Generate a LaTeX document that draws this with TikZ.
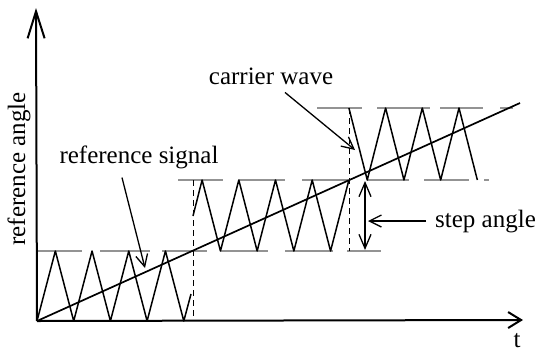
\documentclass[tikz,border=0pt]{standalone}
\usepackage{fontspec}
\setmainfont{Liberation Serif}
\usetikzlibrary{arrows.meta}

\begin{document}
\begin{tikzpicture}[
x=1pt, y=-1pt,
wave/.style={line width=1.5pt, line join=round},
level/.style={gray!85, line width=1.2pt},
guide/.style={line width=0.9pt, dash pattern=on 6pt off 4pt},
axis/.style={line width=2pt},
arrow/.style={line width=1.3pt, -{Straight Barb[length=12pt,width=12pt]}},
lbl/.style={font=\fontsize{25}{30}\selectfont, inner sep=1pt}
]
\useasboundingbox (0,0) rectangle (537,351);
% axes
\coordinate (O) at (37,321);
\coordinate (ytop) at (36,8);
\coordinate (xend) at (523,320);
\draw[axis, -{Straight Barb[length=27pt,width=17pt]}] (O) -- (ytop);
\draw[axis, -{Straight Barb[length=13pt,width=16pt]}] (O) -- (xend);
% quantisation levels
\foreach \a/\b/\y in {38/82/251, 100/150/251, 162/207/251, 221/268/251, 285/333/251, 347/381/251,
  178/223/180, 239/285/180, 302/348/180, 367/409/180, 424/469/180, 484/489/180,
  317/362/108, 377/430/108, 440/483/108, 500/513/108}
  \draw[level] (\a,\y) -- (\b,\y);
% switching instants
\draw[guide] (193,180) -- (193,321);
\draw[guide] (349,108) -- (349,251);
% carrier wave
\draw[wave] (O) \foreach \k in {1,...,4}{ -- ++(18.35,-70) -- ++(18.35,70)} -- (191,294);
\draw[wave] (193,216) -- (202.1,180) \foreach \k in {1,...,4}{ -- ++(18.35,71) -- ++(18.35,-71)};
\draw[wave] (348.9,108) \foreach \k in {1,...,3}{ -- ++(18.35,72) -- ++(18.35,-72)} -- ++(18.35,72);
% reference signal
\coordinate (rend) at (520,103);
\draw[line width=1.7pt] (O) -- (rend);
% labels
\node[lbl, rotate=90, anchor=base] (ya) at (25,169) {reference angle};
\node[lbl, anchor=base] (t) at (517,347) {t};
\node[lbl, anchor=base] (rs) at (139,163) {reference signal};
\node[lbl, anchor=base] (cw) at (271,84) {carrier wave};
\node[lbl, anchor=base west] (sa) at (434,227) {step angle};
% pointers
\coordinate (rstip) at (145,268);
\coordinate (cwtip) at (355,150);
\coordinate (satip) at (368,0);
\coordinate (s1) at (365,181);
\coordinate (s2) at (365,250);
\draw[arrow] ([xshift=-17pt,yshift=-8pt]rs.south) -- (rstip);
\draw[arrow] ([xshift=14pt,yshift=-7pt]cw.south) -- (cwtip);
\draw[arrow] ([xshift=-8pt]sa.west) -- (satip |- sa.west);
\draw[arrow, {Straight Barb[length=14pt,width=12pt]}-{Straight Barb[length=14pt,width=12pt]}] (s1) -- (s2);
\end{tikzpicture}
\end{document}
